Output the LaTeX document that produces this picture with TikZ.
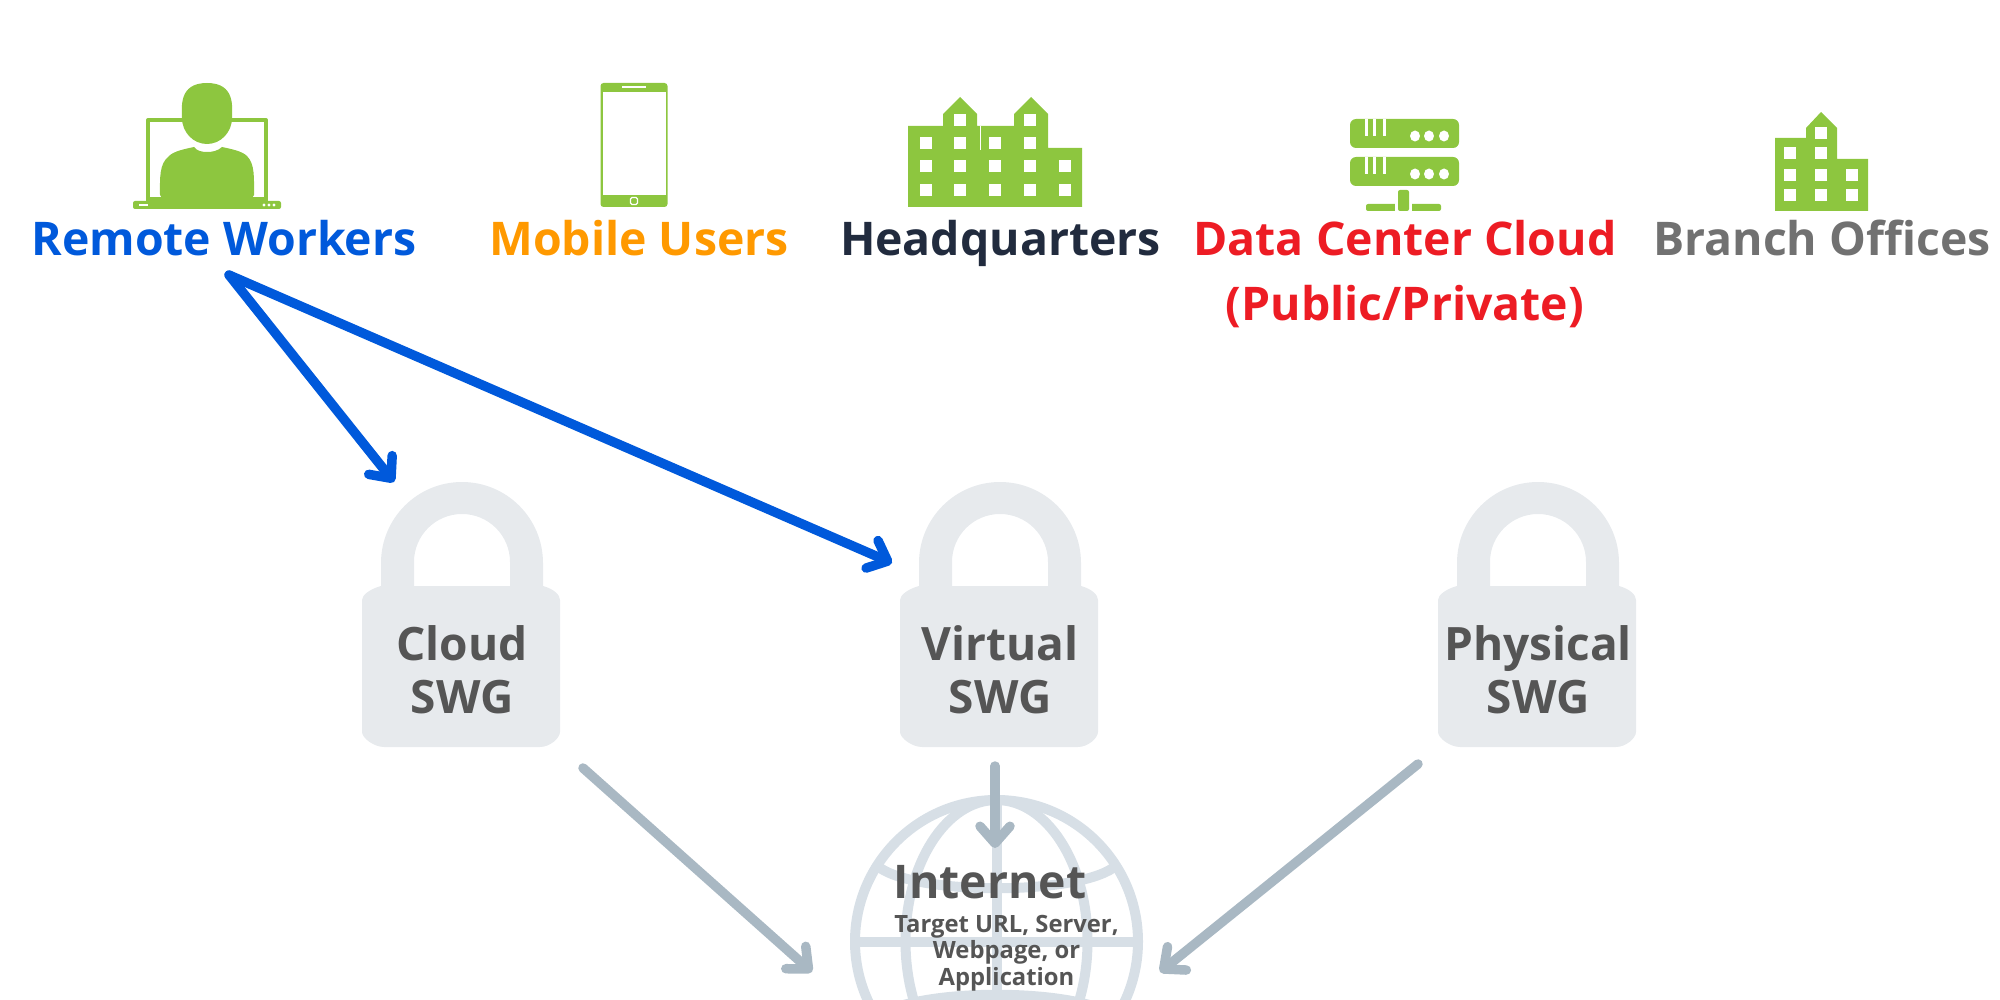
\documentclass[tikz,border=0pt]{standalone}
\usepackage{fontspec}
\setmainfont{Open Sans}[BoldFont={* Bold}]
\usetikzlibrary{arrows.meta}
\definecolor{grn}{HTML}{8DC63F}
\definecolor{blu}{HTML}{0059DB}
\definecolor{org}{HTML}{FF9900}
\definecolor{nvy}{HTML}{212B3E}
\definecolor{rdd}{HTML}{ED1C24}
\definecolor{gry}{HTML}{717171}
\definecolor{lck}{HTML}{E7EAED}
\definecolor{glb}{HTML}{D7DFE6}
\definecolor{arw}{HTML}{A9B8C3}
\definecolor{txd}{HTML}{555555}
\newcommand{\win}[2]{\fill[white] (#1-6,#2-6) rectangle (#1+6,#2+6);}
\tikzset{
  toplabel/.style={anchor=base,inner sep=0pt,font=\fontsize{46.4}{46.4}\selectfont\bfseries},
  locktext/.style={anchor=base,inner sep=0pt,text=txd,font=\fontsize{46}{46}\selectfont\bfseries},
  subtext/.style={anchor=base,inner sep=0pt,text=txd,font=\fontsize{23.8}{23.8}\selectfont\bfseries},
  bluearrow/.style={draw=blu,line width=9.5pt,line cap=round,-{Straight Barb[round,length=17pt,width=30pt,line width=9.5pt]}},
  grayarrow/.style={draw=arw,line width=9.5pt,line cap=round,-{Straight Barb[round,length=17pt,width=30pt,line width=9.5pt]}},
  lockpic/.pic={
    \fill[lck] (-81,106) -- (-81,81) arc[start angle=180,end angle=360,radius=81] -- (81,106) -- (48,106) -- (48,80) arc[start angle=360,end angle=180,radius=48] -- (-48,106) -- cycle;
    \fill[lck] (-81,104) .. controls (-92,107) and (-100,113) .. (-100,118) -- (-100,250) .. controls (-100,256) and (-88,265) .. (-78,265)
      -- (78,265) .. controls (88,265) and (98,256) .. (98,250) -- (98,118) .. controls (98,113) and (92,107) .. (81,104) -- cycle;
  }
}
\begin{document}
\begin{tikzpicture}[x=1pt,y=-1pt]
\useasboundingbox (0,0) rectangle (2000,1000);
% remote worker icon
\draw[grn,line width=4pt,line join=round] (148,202) -- (148,120) -- (266,120) -- (266,202);
\fill[grn] (146,197) rectangle (268,202);
\fill[grn,rounded corners=2pt] (133,201) -- (281,201) -- (281,209) -- (133,209) -- cycle;
\fill[white] (139,204.5) rectangle (148,206);
\foreach \x in {264,269,274}{\fill[white] (\x,205) circle[radius=1.6];}
\fill[grn] (207,83) .. controls (236,83) and (232,108) .. (232,118) .. controls (232,132) and (221,144) .. (207,144)
  .. controls (193,144) and (182,132) .. (182,118) .. controls (182,108) and (178,83) .. (207,83) -- cycle;
\fill[grn] (194,147) .. controls (197,151) and (202,152) .. (207,152) .. controls (212,152) and (218,151) .. (222,147)
  .. controls (231,149) and (242,151) .. (247,156) .. controls (255,164) and (254,178) .. (254,195)
  -- (252,198) -- (162,198) -- (160,195) .. controls (160,178) and (159,164) .. (169,156) .. controls (174,151) and (185,149) .. (194,147) -- cycle;
% phone
\fill[grn,rounded corners=3pt] (600.5,83) rectangle (667.5,207);
\fill[white] (602.5,92) rectangle (666,195);
\fill[white] (622,86.5) rectangle (646,88.5);
\draw[white,line width=1.2pt,rounded corners=1.5pt] (630.5,197.5) rectangle (637.5,204.5);
% headquarters
\fill[grn] (908,207) -- (908,126) -- (943,126) -- (943,114) -- (960,97) -- (977,114) -- (977,126) -- (1014,126) -- (1014,114) -- (1031,97) -- (1048,114) -- (1048,148) -- (1082,148) -- (1082,207) -- cycle;
\fill[white] (979.5,126) rectangle (980.5,150);
\foreach \x in {960,1030}{\win{\x}{120}}
\foreach \x in {926,960,995,1030}{\win{\x}{143}}
\foreach \x in {926,960,995,1030,1065}{\win{\x}{166}\win{\x}{190}}
% servers
\foreach \y in {119,157}{
  \fill[grn,rounded corners=6pt] (1350,\y) rectangle (1459,\y+29);
  \foreach \x in {1366,1374,1384}{\fill[white] (\x-1.5,\y) rectangle (\x+1.5,\y+17);}
  \foreach \x in {1415,1429,1444}{\fill[white] (\x,\y+17) ellipse[x radius=5,y radius=5.5];}
}
\fill[grn,rounded corners=2pt] (1366,204) rectangle (1441,211);
\fill[white] (1395,203) rectangle (1412,211);
\fill[grn,rounded corners=2pt] (1398,190) rectangle (1409,211);
% branch
\fill[grn] (1775,211) -- (1775,138) -- (1806,138) -- (1806,128) -- (1821,112) -- (1837,128) -- (1837,159) -- (1868,159) -- (1868,211) -- cycle;
\win{1821}{133}
\foreach \x in {1790,1821}{\win{\x}{153}}
\foreach \x in {1790,1821,1852}{\win{\x}{175}\win{\x}{195}}
% top labels
\node[toplabel,text=blu] (rw) at (224,256) {Remote Workers};
\node[toplabel,text=org] (mu) at (639,256) {Mobile Users};
\node[toplabel,text=nvy] (hq) at (1000.5,256) {Headquarters};
\node[toplabel,text=rdd] (dc) at (1405,256) {Data Center Cloud};
\node[toplabel,text=rdd] (dc2) at (1405,320) {(Public/Private)};
\node[toplabel,text=gry] (bo) at (1822,256) {Branch Offices};
% locks
\pic at (462,482) {lockpic};
\pic at (1000,482) {lockpic};
\pic at (1538,482) {lockpic};
\node[locktext] (cloud) at (462,660) {Cloud};
\node[locktext] (cloudb) at (462,713) {SWG};
\node[locktext] (virt) at (1000,660) {Virtual};
\node[locktext] (virtb) at (1000,713) {SWG};
\node[locktext] (phys) at (1538,660) {Physical};
\node[locktext] (physb) at (1538,713) {SWG};
% globe
\begin{scope}
\clip (0,0) rectangle (2000,1000);
\draw[glb,line width=10pt] (996.5,941.5) circle[radius=141.5];
\draw[glb,line width=10pt] (996.5,941.5) ellipse[x radius=91,y radius=141.5];
\draw[glb,line width=10pt] (996.5,800) -- (996.5,1083);
\draw[glb,line width=10pt] (855,941.5) -- (1138,941.5);
\draw[glb,line width=10pt] (880,868) .. controls (920,895) and (1073,895) .. (1113,868);
\draw[glb,line width=10pt] (880,1015) .. controls (920,988) and (1073,988) .. (1113,1015);
\end{scope}
\node[anchor=base,inner sep=0pt,text=txd,font=\fontsize{46.4}{46.4}\selectfont\bfseries] (inet) at (990,898) {Internet};
\node[subtext] (t1) at (1006.5,932) {Target URL, Server,};
\node[subtext] (t2) at (1006.5,958) {Webpage, or};
\node[subtext] (t3) at (1006.5,985) {Application};
% connectors
\coordinate (rwout) at (229,275);
\coordinate (cin) at (394,482);
\coordinate (vin) at (892,563);
\coordinate (cout) at (583,768);
\coordinate (iL) at (812,972);
\coordinate (vout) at (995,766);
\coordinate (iT) at (995,848);
\coordinate (pout) at (1418,764);
\coordinate (iR) at (1160,972);
\draw[bluearrow] (rwout) -- (cin);
\draw[bluearrow] (rwout) -- (vin);
\draw[grayarrow] (cout) -- (iL);
\draw[grayarrow] (vout) -- (iT);
\draw[grayarrow] (pout) -- (iR);
\end{tikzpicture}
\end{document}
